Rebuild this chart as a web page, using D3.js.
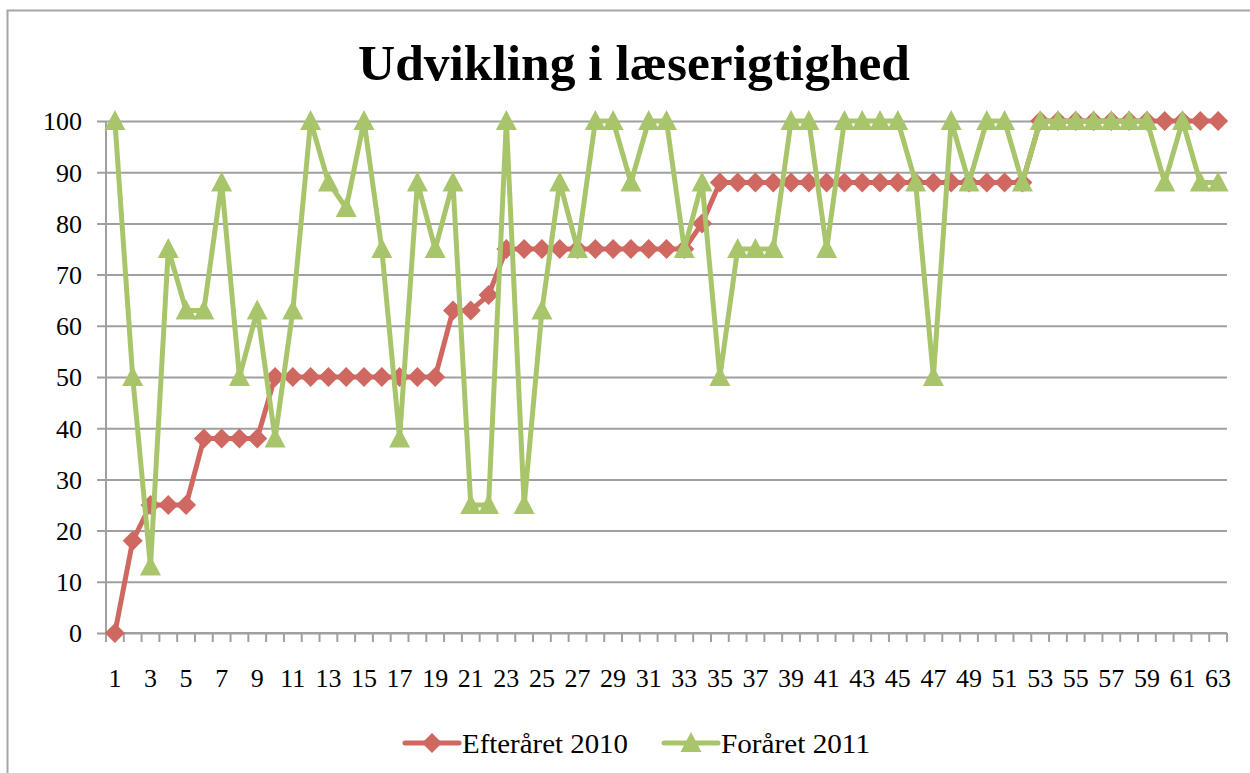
<!DOCTYPE html>
<html>
<head>
<meta charset="utf-8">
<script src="https://cdn.jsdelivr.net/npm/d3@7"></script>
<style>
  body { margin: 0; background: #fff; }
  svg { display: block; }
  text { font-family: "Liberation Serif", "DejaVu Serif", serif; fill: #000; }
</style>
</head>
<body>
<svg width="1250" height="773"></svg>
<script>
var width = 1250,
    height = 773;

// elever 1..63
var categories = d3.range(1, 64);

var efteraaret2010 = [0, 18, 25, 25, 25, 38, 38, 38, 38, 50,
    50, 50, 50, 50, 50, 50, 50, 50, 50, 63,
    63, 66, 75, 75, 75, 75, 75, 75, 75, 75,
    75, 75, 75, 80, 88, 88, 88, 88, 88, 88,
    88, 88, 88, 88, 88, 88, 88, 88, 88, 88,
    88, 88, 100, 100, 100, 100, 100, 100, 100, 100,
    100, 100, 100];

var foraaret2011 = [100, 50, 13, 75, 63, 63, 88, 50, 63, 38,
    63, 100, 88, 83, 100, 75, 38, 88, 75, 88,
    25, 25, 100, 25, 63, 88, 75, 100, 100, 88,
    100, 100, 75, 88, 50, 75, 75, 75, 100, 100,
    75, 100, 100, 100, 100, 88, 50, 100, 88, 100,
    100, 88, 100, 100, 100, 100, 100, 100, 100, 88,
    100, 88, 88];

var yTicks = [0, 10, 20, 30, 40, 50, 60, 70, 80, 90, 100];

var series = [
    { name: "Efteråret 2010", values: efteraaret2010, color: "#cf6860", marker: "diamond" },
    { name: "Foråret 2011", values: foraaret2011, color: "#a9c56b", marker: "triangle" }
];

var svg = d3.select("svg");

// chart border (only top and left show)
svg.append("rect")
    .attr("x", 7.5).attr("y", 10.5)
    .attr("width", 1300).attr("height", 900)
    .attr("fill", "none")
    .attr("stroke", "#a6a6a6")
    .attr("stroke-width", 2);

var plotLeft = 106, plotRight = 1227, plotTop = 121, plotBottom = 633;

var x = d3.scaleBand()
    .domain(categories)
    .range([plotLeft, plotRight]);

var y = d3.scaleLinear()
    .domain([0, 100])
    .range([plotBottom, plotTop]);

function cx(d, i) { return x(categories[i]) + x.bandwidth() / 2; }

// title
svg.append("text")
    .attr("x", 634)
    .attr("y", 80)
    .attr("text-anchor", "middle")
    .attr("textLength", 552)
    .attr("lengthAdjust", "spacingAndGlyphs")
    .style("font-size", "50px")
    .style("font-weight", "bold")
    .text("Udvikling i læserigtighed");

// y axis with gridlines
var yAxis = svg.append("g")
    .attr("transform", "translate(" + plotLeft + ",0)")
    .call(d3.axisLeft(y).tickValues(yTicks).tickSize(-(plotRight - plotLeft)).tickSizeOuter(0).tickPadding(24));
yAxis.select(".domain").remove();
yAxis.selectAll(".tick line")
    .attr("x1", -9)
    .attr("stroke", "#a0a0a0")
    .attr("stroke-width", 2);
yAxis.selectAll(".tick text")
    .style("font-size", "26px")
    .style("font-family", "'Liberation Serif', serif")
    .attr("dy", "0.34em");

// y axis line
svg.append("line")
    .attr("x1", plotLeft).attr("x2", plotLeft)
    .attr("y1", plotTop).attr("y2", plotBottom)
    .attr("stroke", "#a0a0a0")
    .attr("stroke-width", 2);

// x axis
var xAxis = svg.append("g")
    .attr("transform", "translate(0," + plotBottom + ")")
    .call(d3.axisBottom(x)
        .tickSize(0)
        .tickPadding(36)
        .tickFormat(function(d) { return d % 2 === 1 ? d : ""; }));
xAxis.select(".domain")
    .attr("stroke", "#a0a0a0")
    .attr("stroke-width", 2)
    .attr("d", "M" + plotLeft + ",0H" + plotRight);
xAxis.selectAll(".tick text")
    .style("font-size", "26px")
    .style("font-family", "'Liberation Serif', serif");

// boundary ticks between categories
var bounds = categories.map(function(c) { return x(c); }).concat([plotRight]);
xAxis.selectAll(".bound")
    .data(bounds)
    .enter().append("line")
    .attr("class", "bound")
    .attr("x1", function(d) { return d; })
    .attr("x2", function(d) { return d; })
    .attr("y1", 0).attr("y2", 9)
    .attr("stroke", "#a0a0a0")
    .attr("stroke-width", 2);

var line = d3.line()
    .x(cx)
    .y(function(d) { return y(d); });

var diamond = "M0,-10L10,0L0,10L-10,0Z";
var triangle = "M0,-11L10.5,9L-10.5,9Z";

series.forEach(function(s) {
    svg.append("path")
        .datum(s.values)
        .attr("fill", "none")
        .attr("stroke", s.color)
        .attr("stroke-width", 5)
        .attr("stroke-linejoin", "round")
        .attr("d", line);

    svg.selectAll(".m-" + s.marker)
        .data(s.values)
        .enter().append("path")
        .attr("class", "m-" + s.marker)
        .attr("transform", function(d, i) { return "translate(" + cx(d, i) + "," + y(d) + ")"; })
        .attr("d", s.marker === "diamond" ? diamond : triangle)
        .attr("fill", s.color);
});

// legend
var legendItems = [
    { x: 405, w: 166, s: series[0] },
    { x: 664, w: 149, s: series[1] }
];
var legend = svg.selectAll(".legend")
    .data(legendItems)
    .enter().append("g")
    .attr("class", "legend")
    .attr("transform", function(d) { return "translate(" + d.x + ",743)"; });

legend.append("line")
    .attr("x1", 0).attr("x2", 54)
    .attr("stroke", function(d) { return d.s.color; })
    .attr("stroke-width", 5)
    .attr("stroke-linecap", "round");

legend.append("path")
    .attr("transform", "translate(27,0)")
    .attr("d", function(d) { return d.s.marker === "diamond" ? diamond : triangle; })
    .attr("fill", function(d) { return d.s.color; });

legend.append("text")
    .attr("x", 57)
    .attr("y", 10)
    .attr("textLength", function(d) { return d.w; })
    .attr("lengthAdjust", "spacingAndGlyphs")
    .style("font-size", "27px")
    .text(function(d) { return d.s.name; });
</script>
</body>
</html>
